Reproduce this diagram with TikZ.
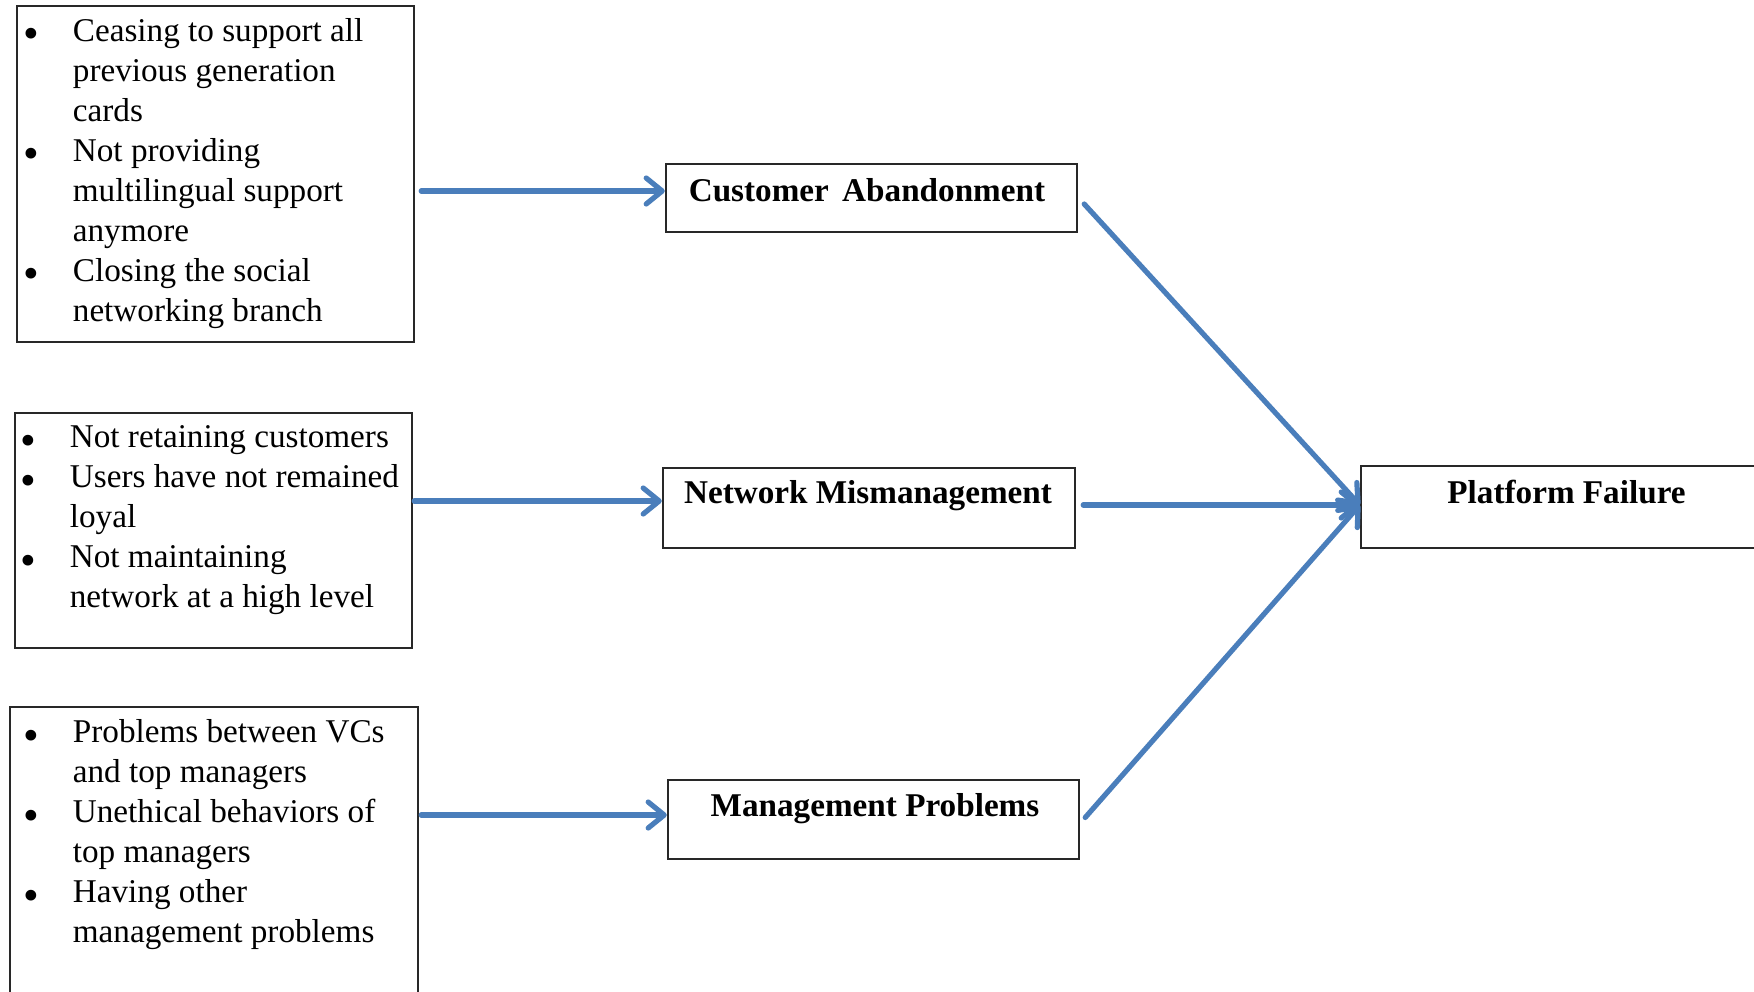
\documentclass[tikz,border=0pt]{standalone}
\usepackage{fontspec}
\usepackage{graphicx}
\setmainfont{Liberation Serif}
\usetikzlibrary{arrows.meta,calc}

\definecolor{linkblue}{RGB}{74,126,187}
\definecolor{boxline}{RGB}{40,40,40}

\tikzset{
  panel/.style={draw=boxline, line width=1.2pt, rectangle, inner sep=0pt},
  factor/.style={font=\fontsize{16.6}{20}\selectfont, inner sep=0pt, anchor=base west},
  headline/.style={font=\fontsize{16.6}{20}\selectfont\bfseries, inner sep=0pt, anchor=base},
  link/.style={draw=linkblue, line width=2.6pt, line cap=round,
    -{Straight Barb[length=8pt, width=13pt, line cap=round, line join=round]}}
}

% list bullet, a little heavier than the text face's own, kept at mid x-height
\newcommand{\dotmark}{\raisebox{-3.8pt}[0pt][0pt]{\scalebox{1.35}{\textbullet}}}
% bullet list laid out as a two-column table: bullet, then text
\newcommand{\bulletlist}[1]{\begin{tabular}[t]{@{}p{24.5pt}@{}l@{}}#1\end{tabular}}

\begin{document}
\begin{tikzpicture}[x=0.5pt, y=-0.5pt]
  \useasboundingbox (0,0) rectangle (1754,991);

  % cause boxes on the left
  \node[panel, minimum width=198.5pt, minimum height=168pt] (b1) at (215.5,174) {};
  \node[panel, minimum width=198.5pt, minimum height=117.5pt] (b2) at (213.5,530.5) {};
  \node[panel, minimum width=204pt, minimum height=147pt] (b3) at (214,854) {};

  \node[factor] (b1t) at (23.5,41) {\bulletlist{
    \dotmark & Ceasing to support all\\
             & previous generation\\
             & cards\\
    \dotmark & Not providing\\
             & multilingual support\\
             & anymore\\
    \dotmark & Closing the social\\
             & networking branch}};

  \node[factor] (b2t) at (20.5,447.5) {\bulletlist{
    \dotmark & Not retaining customers\\
    \dotmark & Users have not remained\\
             & loyal\\
    \dotmark & Not maintaining\\
             & network at a high level}};

  \node[factor] (b3t) at (23.5,742.7) {\bulletlist{
    \dotmark & Problems between VCs\\
             & and top managers\\
    \dotmark & Unethical behaviors of\\
             & top managers\\
    \dotmark & Having other\\
             & management problems}};

  % intermediate factors
  \node[panel, minimum width=205.5pt, minimum height=34pt] (ca) at (871.5,198) {};
  \node[panel, minimum width=206pt, minimum height=40pt] (nm) at (869,508) {};
  \node[panel, minimum width=205.5pt, minimum height=39.5pt] (mp) at (873.5,819.5) {};
  \node[headline] (cat) at (867,201) {Customer\hspace{2.5pt} Abandonment};
  \node[headline] (nmt) at (868,503) {Network Mismanagement};
  \node[headline] (mpt) at (875,816) {Management Problems};

  % outcome
  \node[panel, minimum width=205.5pt, minimum height=41pt] (pf) at (1566.5,507) {};
  \node[headline] (pft) at (1566.5,503) {Platform Failure};

  % connectors
  \draw[link] ($(b1.east |- ca.west)+(6,-7)$) -- ($(ca.west)+(0,-7)$);
  \draw[link] ($(b2.east |- nm.west)+(1,-7)$) -- ($(nm.west)+(0,-7)$);
  \draw[link] ($(b3.east |- mp.west)+(2,-4.5)$) -- ($(mp.west)+(0,-4.5)$);

  \draw[link] ($(ca.east)+(6,6)$) -- ($(pf.west)+(0,-2)$);
  \draw[link] ($(nm.east)+(7,-3)$) -- ($(pf.west)+(0,-2)$);
  \draw[link] ($(mp.east)+(5,-2)$) -- ($(pf.west)+(0,-2)$);
\end{tikzpicture}
\end{document}
